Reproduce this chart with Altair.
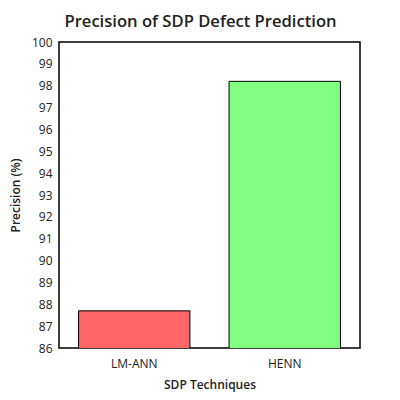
import altair as alt
import pandas as pd

techniques = ["LM-ANN", "HENN"]
precision = [87.7, 98.2]
bar_colors = ["#ff6666", "#80ff80"]

df = pd.DataFrame({"technique": techniques, "precision": precision})

font = "Open Sans"

bars = alt.Chart(df).mark_bar(stroke="black", strokeWidth=1, clip=True).encode(
    x=alt.X("technique:N", sort=techniques, title="SDP Techniques",
            scale=alt.Scale(paddingInner=0.26, paddingOuter=0.13),
            axis=alt.Axis(labelAngle=0, ticks=False, domain=False, labelPadding=10,
                          titlePadding=10)),
    y=alt.Y("precision:Q", title="Precision (%)",
            scale=alt.Scale(domain=[86, 100], nice=False, zero=False),
            axis=alt.Axis(values=list(range(86, 101)), ticks=False, domain=False,
                          grid=False, labelPadding=7, titlePadding=9)),
    color=alt.Color("technique:N", scale=alt.Scale(domain=techniques, range=bar_colors),
                    legend=None),
)

chart = bars.properties(
    width=301,
    height=306,
    title=alt.Title("Precision of SDP Defect Prediction", fontSize=16.6, font=font,
                    fontWeight=600, color="#222", offset=5, dx=-9),
    autosize=alt.AutoSizeParams(type="none"),
    padding={"left": 51, "top": 34, "right": 31, "bottom": 44},
).configure_view(
    stroke="black", strokeWidth=1.5
).configure_axis(
    labelFont=font, titleFont=font, labelFontSize=12, titleFontSize=12,
    labelColor="#222", titleColor="#222", titleFontWeight=600
)

chart.save("out.html", embed_options={"renderer": "svg", "actions": False})
